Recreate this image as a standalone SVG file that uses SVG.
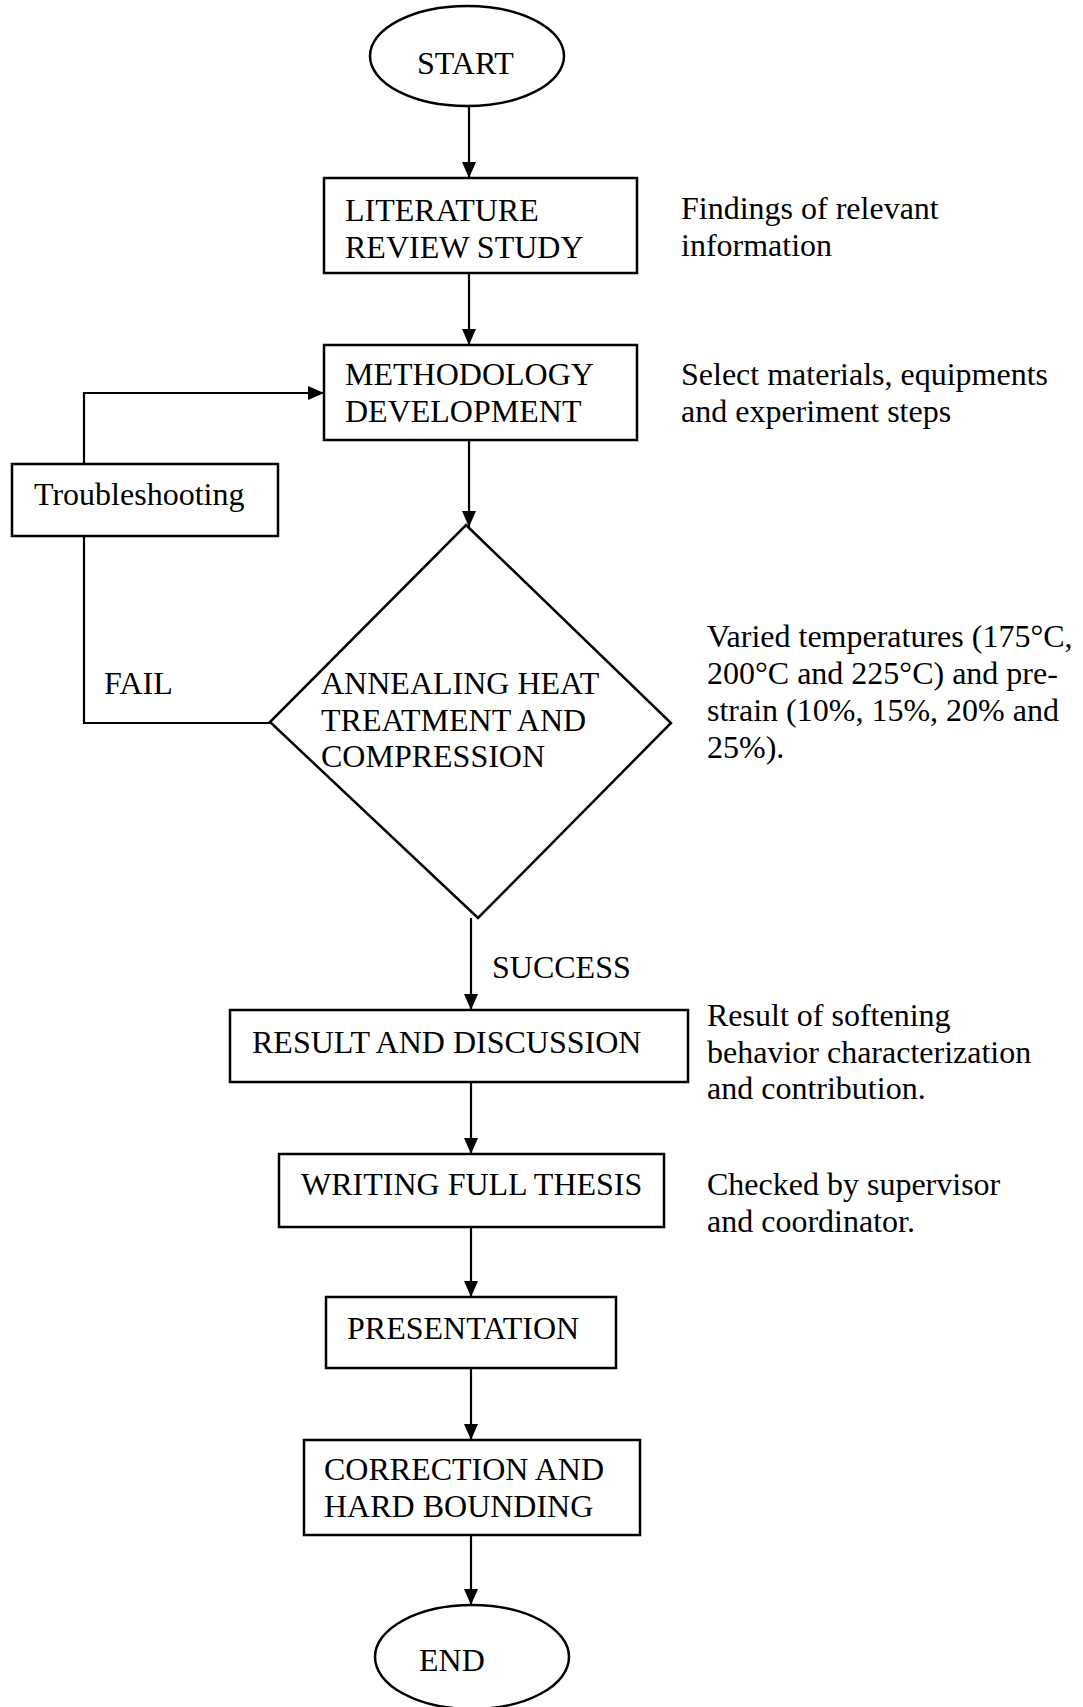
<svg xmlns="http://www.w3.org/2000/svg" width="1083" height="1707" viewBox="0 0 1083 1707">
<style>
  .shape { fill: #ffffff; stroke: #000000; stroke-width: 2.5; }
  .conn { fill: none; stroke: #000000; stroke-width: 2.2; }
  text { font-family: "Liberation Serif", "Times New Roman", serif; font-size: 32px; fill: #000000; }
</style>
<defs>
  <marker id="arrow" viewBox="0 0 16 14" refX="16" refY="7" markerWidth="16" markerHeight="14" markerUnits="userSpaceOnUse" orient="auto">
    <path d="M0,0 L16,7 L0,14 z" fill="#000000"/>
  </marker>
</defs>
<rect x="0" y="0" width="1083" height="1707" fill="#ffffff"/>

<g id="connectors">
  <line class="conn" x1="469" y1="106" x2="469" y2="178" marker-end="url(#arrow)"/>
  <line class="conn" x1="469" y1="273" x2="469" y2="345" marker-end="url(#arrow)"/>
  <line class="conn" x1="469" y1="440" x2="469" y2="527" marker-end="url(#arrow)"/>
  <path class="conn" d="M84,464 V393 H324" marker-end="url(#arrow)"/>
  <path class="conn" d="M84,536 V723 H270"/>
  <line class="conn" x1="471" y1="918" x2="471" y2="1010" marker-end="url(#arrow)"/>
  <line class="conn" x1="471" y1="1082" x2="471" y2="1154" marker-end="url(#arrow)"/>
  <line class="conn" x1="471" y1="1227" x2="471" y2="1297" marker-end="url(#arrow)"/>
  <line class="conn" x1="471" y1="1368" x2="471" y2="1440" marker-end="url(#arrow)"/>
  <line class="conn" x1="471" y1="1535" x2="471" y2="1605" marker-end="url(#arrow)"/>
  <text x="104" y="694">FAIL</text>
  <text x="492" y="978">SUCCESS</text>
</g>

<g id="start">
  <ellipse class="shape" cx="467" cy="56" rx="97" ry="50"/>
  <text x="417" y="74">START</text>
</g>

<g id="literature">
  <rect class="shape" x="324" y="178" width="313" height="95"/>
  <text x="345" y="221">LITERATURE</text>
  <text x="345" y="258">REVIEW STUDY</text>
</g>
<g id="note-literature">
  <text x="681" y="219">Findings of relevant</text>
  <text x="681" y="256">information</text>
</g>

<g id="methodology">
  <rect class="shape" x="324" y="345" width="313" height="95"/>
  <text x="345" y="385">METHODOLOGY</text>
  <text x="345" y="422">DEVELOPMENT</text>
</g>
<g id="note-methodology">
  <text x="681" y="385">Select materials, equipments</text>
  <text x="681" y="422">and experiment steps</text>
</g>

<g id="troubleshooting">
  <rect class="shape" x="12" y="464" width="266" height="72"/>
  <text x="34" y="505">Troubleshooting</text>
</g>

<g id="annealing">
  <polygon class="shape" points="466,525 671,723 478,918 270,722"/>
  <text x="321" y="694">ANNEALING HEAT</text>
  <text x="321" y="731">TREATMENT AND</text>
  <text x="321" y="767">COMPRESSION</text>
</g>
<g id="note-annealing">
  <text x="707" y="647">Varied temperatures (175°C,</text>
  <text x="707" y="684">200°C and 225°C) and pre-</text>
  <text x="707" y="721">strain (10%, 15%, 20% and</text>
  <text x="707" y="758">25%).</text>
</g>

<g id="result">
  <rect class="shape" x="230" y="1010" width="458" height="72"/>
  <text x="252" y="1053">RESULT AND DISCUSSION</text>
</g>
<g id="note-result">
  <text x="707" y="1026">Result of softening</text>
  <text x="707" y="1063">behavior characterization</text>
  <text x="707" y="1099">and contribution.</text>
</g>

<g id="writing">
  <rect class="shape" x="279" y="1154" width="385" height="73"/>
  <text x="301" y="1195">WRITING FULL THESIS</text>
</g>
<g id="note-writing">
  <text x="707" y="1195">Checked by supervisor</text>
  <text x="707" y="1232">and coordinator.</text>
</g>

<g id="presentation">
  <rect class="shape" x="326" y="1297" width="290" height="71"/>
  <text x="347" y="1339">PRESENTATION</text>
</g>

<g id="correction">
  <rect class="shape" x="304" y="1440" width="336" height="95"/>
  <text x="324" y="1480">CORRECTION AND</text>
  <text x="324" y="1517">HARD BOUNDING</text>
</g>

<g id="end">
  <ellipse class="shape" cx="472" cy="1657" rx="97" ry="52"/>
  <text x="419" y="1671">END</text>
</g>
</svg>
